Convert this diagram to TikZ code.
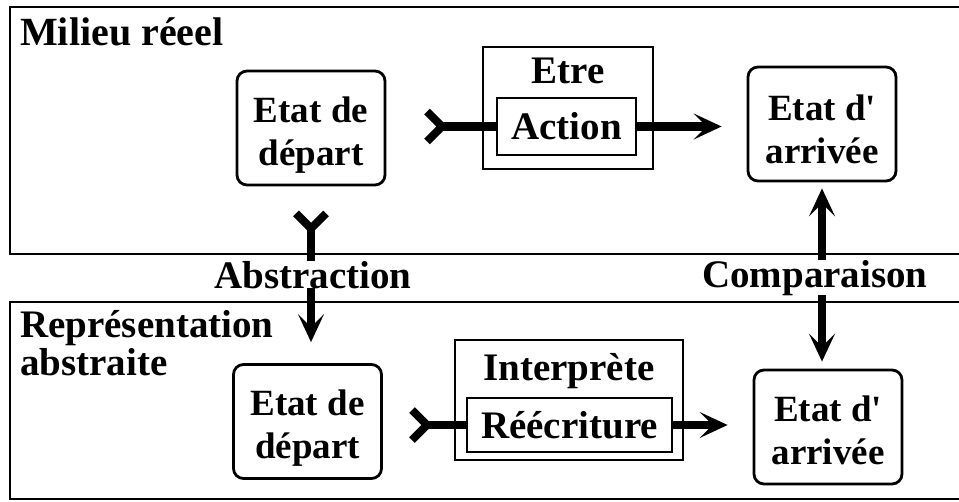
\documentclass[tikz,border=0pt]{standalone}
\usepackage{fontspec}
\setmainfont{Liberation Serif}
\usetikzlibrary{arrows.meta}
\usetikzlibrary{shapes,positioning}

\begin{document}
\begin{tikzpicture}[x=1pt, y=-1pt,
            every node/.style = {inner sep=0pt, font=\bfseries\fontsize{39}{38}\selectfont},
            zone/.style = {draw, line width=2.8pt},
            etat/.style = {draw, rounded corners=10pt, line width=2.8pt,
                           minimum width=148pt, minimum height=114pt},
            etattxt/.style = {align=center, font=\bfseries\fontsize{37}{43}\selectfont},
            agent/.style = {draw, line width=2.8pt},
            pointe/.tip = {Stealth[length=28pt, width=26pt, inset=13pt]},
            talon/.tip = {Straight Barb[reversed, length=15pt, width=30pt, line width=8pt]},
            canal/.style = {line width=8.5pt}
            ]
            \useasboundingbox (0,0) rectangle (959,501);
            % les deux milieux
            \draw[zone] (10,7) rectangle (975,254);
            \draw[zone] (10,302) rectangle (975,499);
            \node[anchor=base west, font=\bfseries\fontsize{40}{38}\selectfont] (milieu) at (20,45) {Milieu réeel};
            \node[anchor=north west, align=left] (repr) at (20,310) {Représentation\\abstraite};

            % milieu reel
            \node[etat] (depA) at (311,128) {};
            \node[etattxt] (depAt) at ([yshift=-7pt]depA.center) {Etat de\\départ};
            \node[agent, minimum width=170pt, minimum height=122pt] (etre) at (568,108) {};
            \node[anchor=base] (etret) at (568,83) {Etre};
            \node[agent, minimum width=139pt, minimum height=57pt] (action) at (566.5,126.5) {Action};
            \node[etat] (arrA) at (822,124) {};
            \node[etattxt] (arrAt) at ([yshift=-5pt]arrA.center) {Etat d\textquotesingle\\arrivée};

            % representation abstraite
            \node[etat] (depB) at (307.5,421.5) {};
            \node[etattxt] (depBt) at ([yshift=-7pt]depB.center) {Etat de\\départ};
            \node[agent, minimum width=228pt, minimum height=120pt] (interp) at (569,400) {};
            \node[anchor=base] (interpt) at (569,380) {Interprète};
            \node[agent, minimum width=205pt, minimum height=54pt] (reecr) at (569.5,425) {Réécriture};
            \node[etat] (arrB) at (828,427) {};
            \node[etattxt] (arrBt) at ([yshift=-3pt]arrB.center) {Etat d\textquotesingle\\arrivée};

            % fleches
            \coordinate (entreeA) at (423,126.5);
            \coordinate (entreeB) at (408,425);
            \draw[canal, talon-] (entreeA) -- (action.west);
            \draw[canal, -pointe, shorten >=25pt] (action.east) -- (action.east -| arrA.west);
            \draw[canal, talon-] (entreeB) -- (reecr.west);
            \draw[canal, -pointe, shorten >=25pt] (reecr.east) -- (reecr.east -| arrB.west);
            \draw[canal, talon-pointe, shorten <=23pt, shorten >=21pt] (depA.south) -- (depA.south |- depB.north);
            \draw[canal, pointe-pointe, shorten <=6pt, shorten >=7pt] (arrA.south) -- (arrA.south |- arrB.north);

            \node[fill=white, anchor=base] (abstr) at (313,288) {Abstraction};
            \node[fill=white, anchor=base] (compar) at (815,287) {Comparaison};
\end{tikzpicture}
\end{document}
